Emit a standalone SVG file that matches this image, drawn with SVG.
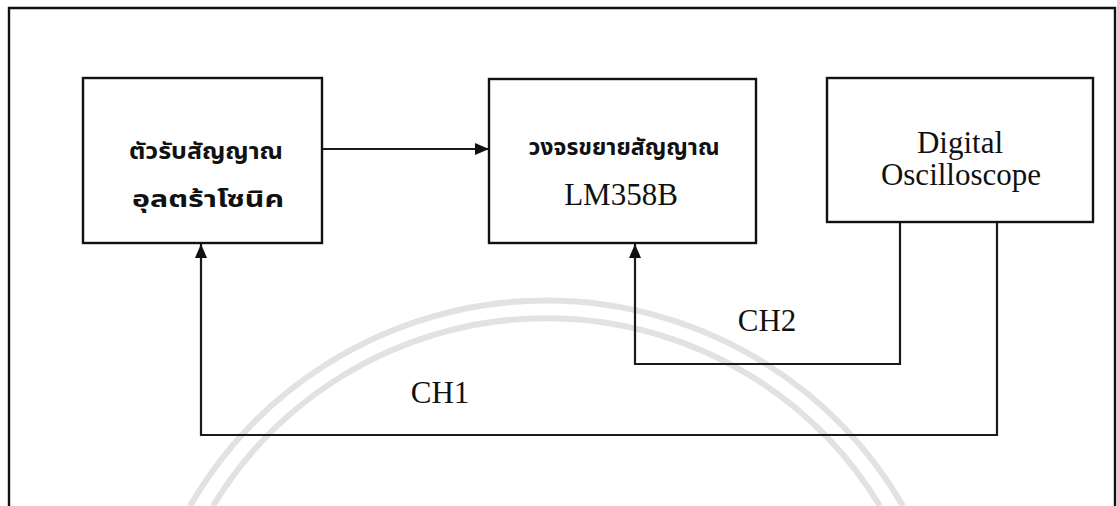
<svg xmlns="http://www.w3.org/2000/svg" width="1117" height="506" viewBox="0 0 1117 506">
<defs>
<style>
.box{fill:#fff;stroke:#111;stroke-width:2.4}
.frame{fill:none;stroke:#111;stroke-width:2.4}
.wire{fill:none;stroke:#1a1a1a;stroke-width:2.2}
.en{font-family:"Liberation Serif","Times New Roman",serif;font-size:31px;fill:#111;text-anchor:middle}
.th{font-family:"Noto Sans Thai","Noto Sans Thai UI","Loma","Garuda","Tlwg Typo","Noto Sans","DejaVu Sans",sans-serif;font-weight:bold;font-size:23px;fill:#111;text-anchor:middle}
.wm{fill:none;stroke:#e2e2e2;stroke-width:6}
</style>
<marker id="arr" viewBox="0 0 14 12" refX="14" refY="6" markerWidth="14" markerHeight="12" markerUnits="userSpaceOnUse" orient="auto">
<path d="M0,0 L14,6 L0,12 Z" fill="#111"/>
</marker>
</defs>
<rect width="1117" height="506" fill="#fff"/>
<g id="watermark">
<path class="wm" d="M190,506 A412,412 0 0 1 903,506"/>
<path class="wm" d="M213,506 A390,390 0 0 1 880,506"/>
</g>
<path id="frame" class="frame" d="M9,510 L9,8 L1115,8 L1115,510"/>
<g id="connectors">
<path class="wire" d="M322,149 L489,149" marker-end="url(#arr)"/>
<path class="wire" d="M900,222 L900,364 L635,364 L635,244" marker-end="url(#arr)"/>
<path class="wire" d="M997,222 L997,435 L201,435 L201,244" marker-end="url(#arr)"/>
<text class="en" x="767" y="331" font-size="30">CH2</text>
<text class="en" x="440" y="403" font-size="30">CH1</text>
</g>
<g id="receiver">
<rect class="box" x="83" y="78" width="239" height="165"/>
<text class="th" x="206" y="159" textLength="154" lengthAdjust="spacingAndGlyphs">ตัวรับสัญญาณ</text>
<text class="th" x="208" y="207" textLength="152" lengthAdjust="spacingAndGlyphs">อุลตร้าโซนิค</text>
</g>
<g id="amplifier">
<rect class="box" x="489" y="79" width="267" height="164"/>
<text class="th" x="624" y="155" textLength="191" lengthAdjust="spacingAndGlyphs">วงจรขยายสัญญาณ</text>
<text class="en" x="621" y="205">LM358B</text>
</g>
<g id="oscilloscope">
<rect class="box" x="827" y="78" width="266" height="144"/>
<text class="en" x="960" y="153" font-size="30">Digital</text>
<text class="en" x="961" y="185" font-size="30">Oscilloscope</text>
</g>
</svg>
